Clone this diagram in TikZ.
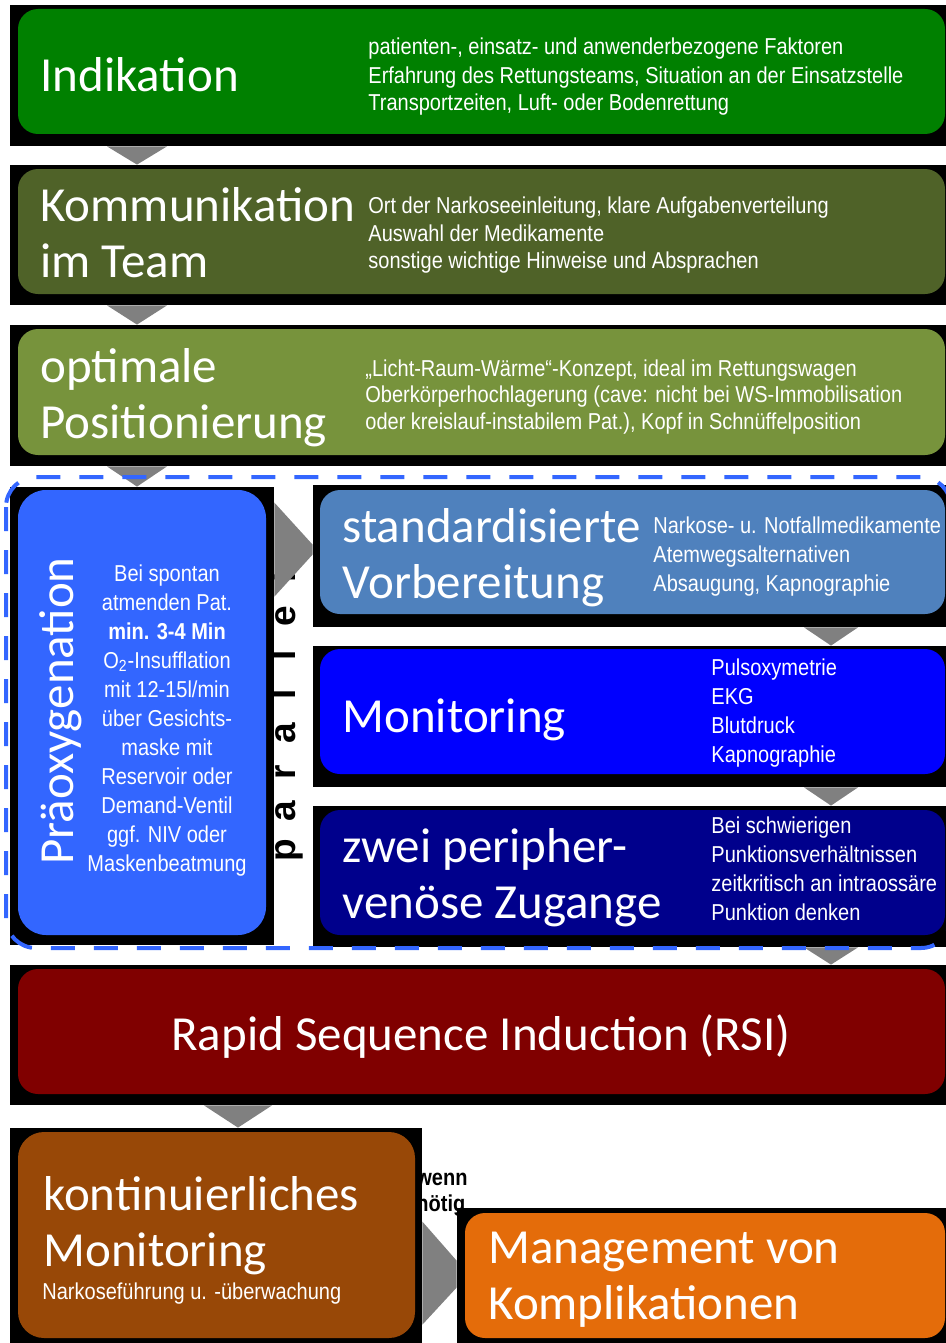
\documentclass[tikz,border=0pt]{standalone}
\usepackage{fontspec}
\setmainfont{Carlito}
\newfontfamily\notefont[FakeStretch=0.87]{Liberation Sans}
\newfontfamily\parfont{Liberation Sans}
\usetikzlibrary{calc,fit}

\definecolor{indgreen}{RGB}{0,128,0}
\definecolor{komolive}{RGB}{79,98,40}
\definecolor{optolive}{RGB}{119,147,60}
\definecolor{prablue}{RGB}{51,102,255}
\definecolor{stdblue}{RGB}{79,129,189}
\definecolor{monblue}{RGB}{0,0,255}
\definecolor{zvnavy}{RGB}{0,0,140}
\definecolor{rsired}{RGB}{128,0,0}
\definecolor{kontbrown}{RGB}{152,72,7}
\definecolor{mgmtorange}{RGB}{228,108,10}
\definecolor{dashblue}{RGB}{51,102,255}

\newcommand{\stack}[2][l]{\begin{tabular}[t]{@{}#1@{}}#2\end{tabular}}

\begin{document}
\begin{tikzpicture}[
  x=0.5pt,y=-0.5pt,
  backdrop/.style={fill=black,inner sep=0pt},
  stage/.style={inner sep=0pt,rounded corners=10pt},
  title/.style={text=white,inner sep=0pt,anchor=base west,font=\fontsize{24.5}{28}\selectfont},
  note/.style={text=white,inner sep=0pt,anchor=base west,font=\notefont\fontsize{11.5}{#1}\selectfont},
  note/.default=14,
  chevron/.style={fill=gray},
  parletter/.style={rotate=90,anchor=base,inner sep=0pt,font=\parfont\bfseries\fontsize{18.5}{20}\selectfont},
  frame/.style={draw=dashblue,line width=2pt,dash pattern=on 12pt off 9.5pt,rounded corners=15pt}
]

\def\chev#1#2#3#4{
  \fill[chevron] ($(#1 |- #2.south)+(-#4,0)$) -- ($(#1 |- #2.south)+(#4,0)$) -- (#1 |- #3.north) -- cycle;
}

\useasboundingbox (0,0) rectangle (946,1343);

\foreach \ch [count=\i from 0] in {p,a,r,a,l,l,e,l}
  \node[parletter] (par\i) at (295,{850-39*\i}) {\ch};
\node[note=13,text=black] (wenn) at (416,1185) {\bfseries\stack{wenn\\nötig}};

\node[backdrop,fit={(10,5) (946,146)}] (indbg) {};
\node[stage,fill=indgreen,fit={(18,9) (945,134)}] (ind) {};
\node[title] (indtitle) at (40,91) {Indikation};
\node[note] (indnote) at (368,55) {\stack{patienten-, einsatz- und anwenderbezogene Faktoren\\Erfahrung des Rettungsteams, Situation an der Einsatzstelle\\Transportzeiten, Luft- oder Bodenrettung}};

\node[backdrop,fit={(10,165) (946,305)}] (kombg) {};
\node[stage,fill=komolive,fit={(18,169) (945,294)}] (kom) {};
\node[title] (komtitle) at (40,221) {\stack{Kommunikation\\im Team}};
\node[note] (komnote) at (368,213) {\stack{Ort der Narkoseeinleitung, klare Aufgabenverteilung\\Auswahl der Medikamente\\sonstige wichtige Hinweise und Absprachen}};

\node[backdrop,fit={(10,325) (946,466)}] (optbg) {};
\node[stage,fill=optolive,fit={(18,329) (945,455)}] (opt) {};
\node[title] (opttitle) at (40,382) {\stack{optimale\\Positionierung}};
\node[note=13.25] (optnote) at (365,376) {\stack{„Licht-Raum-Wärme“-Konzept, ideal im Rettungswagen\\Oberkörperhochlagerung (cave: nicht bei WS-Immobilisation\\oder kreislauf-instabilem Pat.), Kopf in Schnüffelposition}};

\node[backdrop,fit={(10,487) (274,945)}] (prabg) {};
\node[stage,rounded corners=14pt,fill=prablue,fit={(18,490) (266,935)}] (pra) {};
\node[title,rotate=90,anchor=base] (pratitle) at (73,711) {Präoxygenation};
\node[note=14.5,anchor=base] (pranote) at (167,581) {\stack[c]{Bei spontan\\atmenden Pat.\\\textbf{min. 3-4 Min}\\O\textsubscript{2}-Insufflation\\mit 12-15l/min\\über Gesichts-\\maske mit\\Reservoir oder\\Demand-Ventil\\ggf. NIV oder\\Maskenbeatmung}};

\node[backdrop,fit={(313,485) (946,627)}] (stdbg) {};
\node[stage,fill=stdblue,fit={(320,490) (945,614)}] (std) {};
\node[title] (stdtitle) at (342,542) {\stack{standardisierte\\Vorbereitung}};
\node[note=14.5] (stdnote) at (653,533) {\stack{Narkose- u. Notfallmedikamente\\Atemwegsalternativen\\Absaugung, Kapnographie}};

\node[backdrop,fit={(313,646) (946,787)}] (monbg) {};
\node[stage,fill=monblue,fit={(320,649) (945,774)}] (mon) {};
\node[title] (montitle) at (342,732) {Monitoring};
\node[note=14.6] (monnote) at (711,675) {\stack{Pulsoxymetrie\\EKG\\Blutdruck\\Kapnographie}};

\node[backdrop,fit={(313,806) (946,947)}] (zvbg) {};
\node[stage,fill=zvnavy,fit={(320,810) (945,935)}] (zv) {};
\node[title] (zvtitle) at (342,862) {\stack{zwei peripher-\\venöse Zugange}};
\node[note=14.5] (zvnote) at (711,833) {\stack{Bei schwierigen\\Punktionsverhältnissen\\zeitkritisch an intraossäre\\Punktion denken}};

\node[backdrop,fit={(10,965) (946,1105)}] (rsibg) {};
\node[stage,fill=rsired,fit={(18,969) (945,1094)}] (rsi) {};
\node[title,anchor=base] (rsititle) at (481,1050) {Rapid Sequence Induction (RSI)};

\node[backdrop,fit={(10,1128) (422,1343)}] (kontbg) {};
\node[stage,rounded corners=13pt,fill=kontbrown,fit={(18,1132) (415,1338)}] (kont) {};
\node[title] (konttitle) at (43,1210) {\stack{kontinuierliches\\Monitoring}};
\node[note] (kontnote) at (42,1299) {Narkoseführung u. -überwachung};

\node[backdrop,fit={(457,1208) (946,1343)}] (mgmtbg) {};
\node[stage,fill=mgmtorange,fit={(465,1213) (945,1338)}] (mgmt) {};
\node[title] (mgmttitle) at (488,1263) {\stack{Management von\\Komplikationen}};

\coordinate (lane) at (137,0);
\coordinate (rlane) at (831,0);
\coordinate (blane) at (238,0);

\chev{lane}{indbg}{kombg}{30}
\chev{lane}{kombg}{optbg}{30}
\chev{lane}{optbg}{prabg}{30}
\chev{rlane}{stdbg}{monbg}{27}
\chev{rlane}{monbg}{zvbg}{27}
\chev{rlane}{zvbg}{rsibg}{27}
\chev{blane}{rsibg}{kontbg}{34}

\fill[chevron] ($(prabg.north east)+(0,16)$) -- ($(stdbg.north west)+(0,60)$) -- ($(stdbg.north west)+(0,70)$) -- ($(prabg.north east)+(0,110)$) -- cycle;
\fill[chevron] ($(kontbg.north east)+(0,94)$) -- ($(mgmtbg.north west)+(0,53)$) -- ($(mgmtbg.north west)+(0,80)$) -- ($(kontbg.north east)+(0,197)$) -- cycle;

\draw[frame] (6,477) rectangle (951,948);

\end{tikzpicture}
\end{document}
